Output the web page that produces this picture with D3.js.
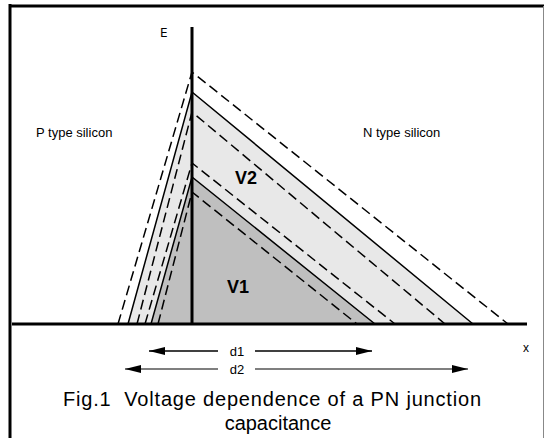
<!DOCTYPE html>
<html>
<head>
<meta charset="utf-8">
<style>
    body{ margin:0; background:#fff; }
    text{ font-family:"Liberation Sans", Arial, sans-serif; fill:#000; }
    .field{ fill:none; stroke:#000; stroke-width:1.5; }
    .dash{ stroke-dasharray:10,5; }
</style>
</head>
<body>
<script src="https://cdn.jsdelivr.net/npm/d3@7"></script>
<script>
var width = 544, height = 438;

// field lines: peak E at junction, depletion edge on P side, edge on N side
var peaks  = [25.2, 23.2, 21.2, 16.1, 14.7, 13.2];
var pEdges = [-7.4, -6.4, -5.5, -4.7, -4.1, -3.4];
var nEdges = [31.6, 28.1, 25.3, 20.3, 18.3, 16.5];
var styles = ["dash", "solid", "dash", "dash", "solid", "dash"];

// shaded triangles (index into the arrays above)
var fillIdx   = [1, 4];
var fillColor = ["#e8e8e8", "#bfbfbf"];
var fillLabel = ["V2", "V1"];

// width arrows
var arrowNames = ["d1", "d2"];
var arrowFrom  = [-4.3, -6.7];
var arrowTo    = [18.0, 27.6];

var x = d3.scaleLinear().domain([-18, 33.5]).range([12, 527]);
var y = d3.scaleLinear().domain([0, 25.2]).range([324, 72]);

var svg = d3.select("body").append("svg")
            .attr("width", width)
            .attr("height", height);

// frame
svg.append("line").attr("x1", 10).attr("y1", 4).attr("x2", 10).attr("y2", height)
   .attr("stroke", "#000").attr("stroke-width", 3);
svg.append("line").attr("x1", 9).attr("y1", 6).attr("x2", 544).attr("y2", 6)
   .attr("stroke", "#000").attr("stroke-width", 3);
svg.append("line").attr("x1", 543.5).attr("y1", 6).attr("x2", 543.5).attr("y2", height)
   .attr("stroke", "#888").attr("stroke-width", 1);

var tri = d3.line().x(function(d){ return x(d[0]); }).y(function(d){ return y(d[1]); });

fillIdx.forEach(function(k, i){
    svg.append("path")
       .attr("d", tri([[pEdges[k], 0], [0, peaks[k]], [nEdges[k], 0]]) + "Z")
       .attr("fill", fillColor[i]);
});

peaks.forEach(function(p, i){
    svg.append("path")
       .attr("class", "field" + (styles[i] == "dash" ? " dash" : ""))
       .attr("d", tri([[pEdges[i], 0], [0, p], [nEdges[i], 0]]));
});

// axes
svg.append("line").attr("x1", x(0)).attr("y1", 27).attr("x2", x(0)).attr("y2", y(0))
   .attr("stroke", "#000").attr("stroke-width", 3);
svg.append("line").attr("x1", 12).attr("y1", y(0)).attr("x2", 527).attr("y2", y(0))
   .attr("stroke", "#000").attr("stroke-width", 3);

svg.append("text").attr("x", 160).attr("y", 37).attr("font-size", 12)
   .style("font-family", "DejaVu Sans").text("E");
svg.append("text").attr("x", 523).attr("y", 352).attr("font-size", 12).text("x");

svg.append("text").attr("x", 36).attr("y", 137).attr("font-size", 13).text("P type silicon");
svg.append("text").attr("x", 363).attr("y", 137).attr("font-size", 13).text("N type silicon");

svg.append("text").attr("x", 235).attr("y", 184).attr("font-size", 18)
   .attr("font-weight", "bold").text(fillLabel[0]);
svg.append("text").attr("x", 227).attr("y", 293).attr("font-size", 18)
   .attr("font-weight", "bold").text(fillLabel[1]);

// arrows
var defs = svg.append("defs");
defs.append("marker").attr("id", "ah")
    .attr("viewBox", "0 0 16 8").attr("refX", 16).attr("refY", 4)
    .attr("markerWidth", 16).attr("markerHeight", 8)
    .attr("markerUnits", "userSpaceOnUse").attr("orient", "auto-start-reverse")
  .append("path").attr("d", "M0,0L16,4L0,8Z").attr("fill", "#000");

var arrowY = [351, 369];
var arrowCol = ["#000", "#555"];
arrowNames.forEach(function(n, i){
    var mid = 237;
    svg.append("line").attr("x1", x(arrowFrom[i])).attr("y1", arrowY[i])
       .attr("x2", mid - 19).attr("y2", arrowY[i])
       .attr("stroke", arrowCol[i]).attr("stroke-width", 1.3)
       .attr("marker-start", "url(#ah)");
    svg.append("line").attr("x1", mid + 18).attr("y1", arrowY[i])
       .attr("x2", x(arrowTo[i])).attr("y2", arrowY[i])
       .attr("stroke", arrowCol[i]).attr("stroke-width", 1.3)
       .attr("marker-end", "url(#ah)");
    svg.append("text").attr("x", mid).attr("y", arrowY[i] + 5)
       .attr("text-anchor", "middle").attr("font-size", 13).text(n);
});

svg.append("text").attr("x", 272).attr("y", 406).attr("text-anchor", "middle")
   .attr("font-size", 20).attr("xml:space", "preserve")
   .attr("textLength", 418).attr("lengthAdjust", "spacing")
   .text("Fig.1  Voltage dependence of a PN junction");
svg.append("text").attr("x", 278).attr("y", 430).attr("text-anchor", "middle")
   .attr("font-size", 20).text("capacitance");
</script>
</body>
</html>
